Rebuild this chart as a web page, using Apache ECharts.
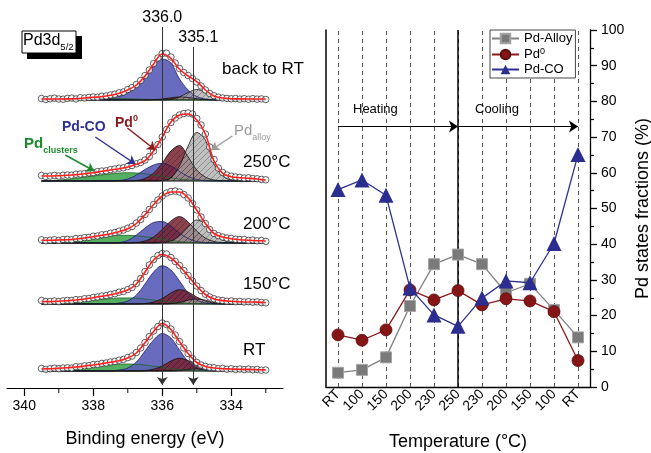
<!DOCTYPE html>
<html><head><meta charset="utf-8">
<script src="https://cdn.jsdelivr.net/npm/echarts@6.0.0/dist/echarts.min.js"></script>
<style>html,body{margin:0;padding:0;background:#fff}#c{width:651px;height:453px}</style>
</head><body><div id="c"></div>
<script>
// ================= DATA =================
// Right panel: Pd state fractions (%)
const temperatures = ['RT','100','150','200','230','250','230','200','150','100','RT'];
const pdAlloy = [4.0,4.8,8.3,22.7,34.4,37.1,34.4,26.4,28.9,21.6,13.9];
const pd0     = [14.6,13.1,16.0,27.2,24.4,27.0,23.0,24.7,24.1,21.1,7.4];
const pdCO    = [55.3,58.0,53.7,27.7,20.2,17.0,24.9,29.7,29.2,40.2,65.1];
const fractionMin = 0, fractionMax = 100, fractionStep = 10;
const heatingLevel = 73;

// Left panel: Pd3d5/2 XPS spectra (intensity, arbitrary units above each baseline)
const energyMajorTicks = [340,338,336,334];
const energyMinorTicks = [339,337,335,333];
const peakLines = [336.0, 335.1];
const spectraNames = ['back to RT','250°C','200°C','150°C','RT'];
const spectraOffsets = [288,207,145,84,17];

const fitEnergy = [339.5,339.25,339,338.75,338.5,338.25,338,337.75,337.5,337.25,337,336.75,336.5,336.25,336,335.75,335.5,335.25,335,334.75,334.5,334.25,334,333.75,333.5,333.25,333];
const dataEnergy = [339.5,339.375,339.25,339.125,339,338.875,338.75,338.625,338.5,338.375,338.25,338.125,338,337.875,337.75,337.625,337.5,337.375,337.25,337.125,337,336.875,336.75,336.625,336.5,336.375,336.25,336.125,336,335.875,335.75,335.625,335.5,335.375,335.25,335.125,335,334.875,334.75,334.625,334.5,334.375,334.25,334.125,334,333.875,333.75,333.625,333.5,333.375,333.25,333.125,333];

// back to RT
const dataBackRT = [1.5,0.5,1.2,1.8,1.0,0.8,1.6,1.9,1.0,2.3,2.0,2.6,3.0,2.8,3.8,4.0,5.0,5.8,7.2,8.0,10.5,12.5,15.5,19.5,24.5,30,36.5,42,46.5,46.8,43,37,31.5,27.5,24.5,21.5,18,14,10,6.5,4.2,2.8,2.0,1.6,1.2,1.5,0.9,1.3,0.8,1.4,0.9,1.1,0.5];
const fitBackRT = [1,1,1,1.1,1.3,2,2.7,3.3,4.7,6.7,10,15,24,36,46,41.7,30.7,24,18.3,10,4,2,1.3,1.1,1,1,1];
const clustersBackRT = [0.3,0.45,0.6,0.8,1,1.2,1.4,1.5,1.5,1.4,1.2,1,0.7,0.5,0.3,0.1,0,0,0,0,0,0,0,0,0,0,0];
const coBackRT = [0.1,0.2,0.3,0.4,0.5,0.6,0.8,1.2,2,3.5,7,13,23,34,41,37,21,10,3.5,1,0.2,0,0,0,0,0,0];
const metalBackRT = [0,0,0,0,0,0,0,0,0,0,0,0,0,0.3,1,2.2,3,2.5,1.3,0.4,0,0,0,0,0,0,0];
const alloyBackRT = [0,0,0,0,0,0,0,0,0,0,0,0,0,0,0,0.5,3,7.5,10.5,7.5,2.5,0.5,0,0,0,0,0];
// 250 °C
const data250 = [5.5,4.5,5.0,5.6,5.0,5.8,6.0,5.8,6.8,7.0,7.5,8.2,8.5,9.4,10.0,10.2,11.3,12.0,12.8,13.2,14.5,15.5,17.2,18.5,21,24.5,30,36.5,44,51.5,58.5,63,66,67.5,68,67,62.5,56,47,34,21.5,13,8.5,6,4.8,4.0,3.6,3.0,3.2,2.4,2.2,1.6,1.2];
const fit250 = [5,5,5.3,5.7,6.3,7.3,8.3,9.7,11,12.3,14,16.7,20.3,30,44,59,66,67,61,47,20,7.7,4.3,3.3,2.7,2,1];
const clusters250 = [0.2,0.5,1,1.7,2.7,3.8,5,6.2,7.2,8,8.3,8,7.2,6,4.6,3.2,2,1.1,0.5,0.2,0,0,0,0,0,0,0];
const co250 = [0,0,0,0,0,0,0,0,0,0.5,2,6,11.5,16,17.7,15,9.5,4.5,1.5,0.3,0,0,0,0,0,0,0];
const metal250 = [0,0,0,0,0,0,0,0,0,0,0,0.5,2.5,8,18,30,35.5,24,11,4,1,0.3,0,0,0,0,0];
const alloy250 = [0,0,0,0,0,0,0,0,0,0,0,0,0,0,0.5,3,15,35,48.5,41,17,5,1,0.2,0,0,0];
// 200 °C
const data200 = [3.2,2.2,2.8,3.3,2.6,3.5,3.6,3.3,4.5,4.4,5.4,5.6,6.8,7.0,8.2,8.6,9.8,10.5,11.8,13,14.8,16.5,20,23.5,28.5,33.5,38.5,43,47,50,51.5,52,51,48.5,45,39.5,33,26,19.5,13.5,9.5,7.4,6.0,5.0,4.6,3.8,3.4,3.6,2.6,2.9,2.2,2.5,1.6];
const fit200 = [2.7,2.7,3,3.3,4,5,6.3,7.7,9.3,11.3,14.3,19.5,28.3,38.5,47,51,51,45,33,19.5,9.5,6,4.3,3.3,2.7,2.3,2];
const clusters200 = [0.5,0.8,1.3,2,3,4,5.2,6.3,7.2,7.7,7.7,7.2,6.3,5,3.7,2.5,1.5,0.8,0.3,0,0,0,0,0,0,0,0];
const co200 = [0,0,0,0,0,0,0,0,0,0.5,2.5,8,15,20.5,21.5,17,10,4.5,1.5,0.3,0,0,0,0,0,0,0];
const metal200 = [0,0,0,0,0,0,0,0,0,0,0,0.5,2,6,13.5,22,26.5,21,12,5,1.5,0.3,0,0,0,0,0];
const alloy200 = [0,0,0,0,0,0,0,0,0,0,0,0,0,0,0.5,2,7,16,23,19,9.5,3,0.7,0.1,0,0,0];
// 150 °C
const data150 = [3.5,2.5,2.6,3.0,2.4,3.2,3.6,3.5,4.4,4.3,5.3,5.5,6.6,7.0,8.0,8.4,9.6,10.3,11.8,12.6,14.5,16.5,20.5,25.5,32.5,39,44.5,48.5,50.5,50,46.5,42.5,38.5,33.5,28.5,23,18,13.5,9.8,7.0,5.2,4.0,3.5,2.8,3.0,2.3,2.6,2.0,2.3,1.8,2.1,1.5,1.2];
const fit150 = [2.5,2.4,2.7,3.3,4,5,6.3,7.7,9.3,11.3,14,20,32,44,49.5,46,38,28,18,9.5,5,3.4,2.7,2.3,2,1.9,1.5];
const clusters150 = [0.5,0.7,1,1.5,2.2,3,3.9,4.8,5.5,6,6.1,5.8,5,4,3,2,1.2,0.6,0.2,0,0,0,0,0,0,0,0];
const co150 = [0,0,0,0,0,0,0,0,0,1,3,9,20,32,38.3,34,23,11,4,1,0.2,0,0,0,0,0,0];
const metal150 = [0,0,0,0,0,0,0,0,0,0,0,0,0.5,2,5.5,11,14.3,12,7,3,0.8,0.1,0,0,0,0,0];
const alloy150 = [0,0,0,0,0,0,0,0,0,0,0,0,0,0,0,0.3,1.5,3.8,5,3.8,1.5,0.4,0,0,0,0,0];
// RT
const dataRT = [2.5,1.6,2.2,2.8,2.3,3.0,3.2,3.0,4.3,4.2,5.2,5.3,6.4,6.6,7.6,8.0,9.0,9.6,10.8,11.6,13.5,15.0,18.5,23,28.5,34.5,40,44.5,48,46.5,42,36,29.5,23,17.5,12.5,8.6,6.0,4.6,3.6,3.3,2.4,2.6,1.8,2.2,1.6,2.0,1.4,1.9,1.2,1.6,0.8,1.0];
const fitRT = [2,2.3,2.7,3.3,4,5,6,7.3,8.7,10.3,13,18,28.3,39.5,47.5,41.5,29.3,17.5,8.5,4.5,3,2.3,2,1.7,1.6,1.3,1.1];
const clustersRT = [0.5,0.8,1.2,1.8,2.6,3.5,4.5,5.5,6.3,6.8,7,6.7,6,4.8,3.6,2.4,1.4,0.7,0.3,0,0,0,0,0,0,0,0];
const coRT = [0,0,0,0,0,0,0,0,0,1,3,9,20,31,37.5,33,21,9.5,3,0.8,0.1,0,0,0,0,0,0];
const metalRT = [0,0,0,0,0,0,0,0,0,0,0,0,0.4,1.8,5,10,12.7,10.5,6,2.5,0.7,0.1,0,0,0,0,0];
const alloyRT = [0,0,0,0,0,0,0,0,0,0,0,0,0,0,0,0,0.5,1.5,2,1.5,0.5,0,0,0,0,0,0];

// ================= BUILD =================
const FONT = '"Liberation Sans", Arial, Helvetica, sans-serif';
const spectra = [
  {data:dataBackRT, fit:fitBackRT, comps:[clustersBackRT, coBackRT, metalBackRT, alloyBackRT]},
  {data:data250, fit:fit250, comps:[clusters250, co250, metal250, alloy250]},
  {data:data200, fit:fit200, comps:[clusters200, co200, metal200, alloy200]},
  {data:data150, fit:fit150, comps:[clusters150, co150, metal150, alloy150]},
  {data:dataRT, fit:fitRT, comps:[clustersRT, coRT, metalRT, alloyRT]}
];

function hatch(color){
  const c = document.createElement('canvas');
  c.width = 6; c.height = 6;
  const g = c.getContext('2d');
  g.fillStyle = color; g.fillRect(0,0,6,6);
  g.strokeStyle = 'rgba(0,0,0,0.6)'; g.lineWidth = 0.7;
  g.beginPath();
  g.moveTo(0,6); g.lineTo(6,0);
  g.moveTo(-1,1); g.lineTo(1,-1);
  g.moveTo(5,7); g.lineTo(7,5);
  g.stroke();
  return c;
}
const compStyles = [
  {fill:'rgba(70,168,82,0.92)', line:'#1f5f28', opacity:1},
  {fill:'rgba(92,96,184,0.92)', line:'#1d1f66', opacity:1},
  {fill:{image:hatch('#7a2230'), repeat:'repeat'}, line:'#111', opacity:0.85},
  {fill:{image:hatch('#a8a8a8'), repeat:'repeat'}, line:'#111', opacity:0.72}
];

const series = [];
spectra.forEach((sp, si) => {
  const off = spectraOffsets[si];
  series.push({type:'line', xAxisIndex:0, yAxisIndex:0, symbol:'none', silent:true, z:2,
    lineStyle:{color:'#000', width:1.2},
    data:[[dataEnergy[0], off],[dataEnergy[dataEnergy.length-1], off]]});
  sp.comps.forEach((arr, ci) => {
    const st = compStyles[ci];
    series.push({type:'line', xAxisIndex:0, yAxisIndex:0, symbol:'none', silent:true, smooth:0.35, z:2,
      lineStyle:{color:st.line, width:0.8},
      areaStyle:{origin:off, color:st.fill, opacity:st.opacity},
      data: arr.map((v,i)=>[fitEnergy[i], off+v])});
  });
  series.push({type:'scatter', xAxisIndex:0, yAxisIndex:0, symbol:'circle', symbolSize:6.5, silent:true, z:3,
    itemStyle:{color:'#fff', borderColor:'#222', borderWidth:0.9},
    data: sp.data.map((v,i)=>[dataEnergy[i], off+v])});
  series.push({type:'line', xAxisIndex:0, yAxisIndex:0, symbol:'none', silent:true, smooth:0.35, z:4,
    lineStyle:{color:'#ff1f1f', width:1.6},
    data: sp.fit.map((v,i)=>[fitEnergy[i], off+v])});
});

// minor ticks of the binding-energy axis (short marks just under the axis line)
series.push({type:'scatter', xAxisIndex:0, yAxisIndex:0, symbol:'rect', symbolSize:[1.2,5], clip:false, silent:true, z:6,
  itemStyle:{color:'#000'},
  data: energyMinorTicks.map(e => [e, -2.5])});

// peak position lines + annotation arrows (left panel)
series.push({type:'line', xAxisIndex:0, yAxisIndex:0, data:[], silent:true, z:5,
  markLine:{silent:true, symbol:['none','arrow'], symbolSize:8, animation:false,
    data:[
      [{coord:[peakLines[0],361], lineStyle:{color:'#333', width:1, type:'solid'},
        label:{show:true, position:'start', formatter:peakLines[0].toFixed(1), fontSize:16, color:'#000', fontFamily:FONT, distance:1}},
       {coord:[peakLines[0],3]}],
      [{coord:[peakLines[1],341], lineStyle:{color:'#333', width:1, type:'solid'},
        label:{show:true, position:'start', formatter:peakLines[1].toFixed(1), fontSize:16, color:'#000', fontFamily:FONT, distance:1, padding:[0,0,0,10]}},
       {coord:[peakLines[1],3]}],
      [{coord:[337.01,260], lineStyle:{color:'#8b1a1a', width:1.5, type:'solid'}, label:{show:false}},{coord:[336.20,238]}],
      [{coord:[337.94,251], lineStyle:{color:'#2e3192', width:1.5, type:'solid'}, label:{show:false}},{coord:[336.78,224]}],
      [{coord:[338.81,233], lineStyle:{color:'#1e8a2e', width:1.5, type:'solid'}, label:{show:false}},{coord:[337.97,217]}],
      [{coord:[333.97,252], lineStyle:{color:'#9a9a9a', width:1.5, type:'solid'}, label:{show:false}},{coord:[334.58,238]}]
    ]}
});

// right panel series
const turnIndex = temperatures.indexOf('250');
series.push({name:'Pd-Alloy', type:'line', xAxisIndex:1, yAxisIndex:1, data:pdAlloy, z:3,
  symbol:'rect', symbolSize:11, lineStyle:{color:'#808080', width:1.3},
  itemStyle:{color:'#7a7a7a', borderColor:'#a5a5a5', borderWidth:1},
  markLine:{silent:true, symbol:'none', label:{show:false}, animation:false, z:1,
    lineStyle:{color:'#555', type:[4,4], width:1},
    data: temperatures.map((t,i)=>({xAxis:i})).concat([{xAxis:turnIndex, lineStyle:{color:'#000', type:'solid', width:1.5}}])}
});
series.push({name:'Pd0', type:'line', xAxisIndex:1, yAxisIndex:1, data:pd0, z:4,
  symbol:'circle', symbolSize:12, lineStyle:{color:'#8b1a1a', width:1.3},
  itemStyle:{color:'#861515', borderColor:'#5a0d0d', borderWidth:0.8},
  markLine:{silent:true, symbol:['none','arrow'], symbolSize:9, label:{show:false}, animation:false,
    lineStyle:{color:'#000', type:'solid', width:1.2},
    data:[[{coord:[0,heatingLevel]},{coord:[turnIndex,heatingLevel]}],
          [{coord:[turnIndex,heatingLevel]},{coord:[temperatures.length-1,heatingLevel]}]]}
});
series.push({name:'Pd-CO', type:'line', xAxisIndex:1, yAxisIndex:1, data:pdCO, z:5,
  symbol:'triangle', symbolSize:15, lineStyle:{color:'#2e3192', width:1.3},
  itemStyle:{color:'#2b2e8f'}});

const yTicks = [];
for (let v = fractionMin; v <= fractionMax; v += fractionStep) yTicks.push(v);
const leftGridHeight = 368;

const option = {
  animation:false,
  backgroundColor:'#fff',
  textStyle:{fontFamily:FONT, color:'#000'},
  grid:[
    {left:7, right:368, top:20, bottom:65, outerBoundsMode:'none', containLabel:false},
    {left:326, right:61, top:30, bottom:66, outerBoundsMode:'none', containLabel:false}
  ],
  xAxis:[
    {gridIndex:0, type:'value', position:'bottom', min:332.5, max:340.5, inverse:true,
     axisLine:{show:true, onZero:false, lineStyle:{color:'#000', width:1.2}},
     axisTick:{show:true, customValues:energyMajorTicks, length:8, inside:false, lineStyle:{color:'#000', width:1.2}},
     axisLabel:{show:true, customValues:energyMajorTicks, fontSize:14, color:'#000', margin:11, fontFamily:FONT},
     splitLine:{show:false},
     name:'Binding energy (eV)', nameLocation:'middle', nameGap:42,
     nameTextStyle:{fontSize:18, color:'#000', fontFamily:FONT}},
    {gridIndex:1, type:'category', data:temperatures, boundaryGap:true,
     axisLine:{show:true, lineStyle:{color:'#000', width:1.3}},
     axisTick:{show:false},
     axisLabel:{rotate:45, fontSize:14, color:'#000', margin:5, interval:0, fontFamily:FONT},
     splitLine:{show:false},
     name:'Temperature (°C)', nameLocation:'middle', nameGap:46,
     nameTextStyle:{fontSize:18, color:'#000', fontFamily:FONT}}
  ],
  yAxis:[
    {gridIndex:0, type:'value', min:0, max:leftGridHeight, show:false},
    {gridIndex:1, type:'value', position:'right', min:fractionMin, max:fractionMax, interval:fractionStep,
     axisLine:{show:true, lineStyle:{color:'#000', width:1.3}},
     axisTick:{show:true, inside:false, length:7, lineStyle:{color:'#000', width:1.3}},
     minorTick:{show:true, splitNumber:2, length:4, lineStyle:{color:'#000', width:1.2}},
     axisLabel:{fontSize:14, color:'#000', margin:11, fontFamily:FONT, customValues:yTicks},
     splitLine:{show:false}, minorSplitLine:{show:false},
     name:'Pd states fractions (%)', nameLocation:'middle', nameGap:44, nameRotate:90,
     nameTextStyle:{fontSize:18, color:'#000', fontFamily:FONT}},
    {gridIndex:1, type:'value', position:'left', min:fractionMin, max:fractionMax,
     axisLine:{show:true, lineStyle:{color:'#000', width:1.5}},
     axisTick:{show:false}, axisLabel:{show:false}, splitLine:{show:false}}
  ],
  legend:{
    data:['Pd-Alloy','Pd0','Pd-CO'], orient:'vertical', left:490, top:30,
    itemWidth:27, itemHeight:12, itemGap:2, padding:[2,3,2,1],
    borderColor:'#444', borderWidth:1, backgroundColor:'#fff', z:10,
    formatter: n => n === 'Pd0' ? '{a|Pd}{s|0}' : '{a|' + n + '}',
    textStyle:{fontFamily:FONT, color:'#000', rich:{
      a:{fontSize:13, lineHeight:15, fontFamily:FONT, color:'#000'},
      s:{fontSize:9, lineHeight:9, verticalAlign:'top', fontFamily:FONT, color:'#000'}}}
  },
  graphic:[
    {type:'rect', shape:{x:27, y:36, width:55, height:23}, style:{fill:'#000'}, z:10},
    {type:'rect', shape:{x:22, y:31, width:54, height:22}, style:{fill:'#fff', stroke:'#000', lineWidth:1}, z:11},
    {type:'text', x:23, y:30, z:12, style:{text:'{a|Pd3d}{b|5/2}', fill:'#000',
      rich:{a:{fontSize:16, lineHeight:22, fontFamily:FONT, color:'#000'},
            b:{fontSize:9.5, lineHeight:11, verticalAlign:'bottom', fontFamily:FONT, color:'#000'}}}},
    {type:'text', x:222, y:61, z:12, style:{text:spectraNames[0], fontSize:17, fontFamily:FONT, fill:'#000'}},
    {type:'text', x:243, y:154, z:12, style:{text:spectraNames[1], fontSize:17, fontFamily:FONT, fill:'#000'}},
    {type:'text', x:243, y:216, z:12, style:{text:spectraNames[2], fontSize:17, fontFamily:FONT, fill:'#000'}},
    {type:'text', x:243, y:276, z:12, style:{text:spectraNames[3], fontSize:17, fontFamily:FONT, fill:'#000'}},
    {type:'text', x:243, y:342, z:12, style:{text:spectraNames[4], fontSize:17, fontFamily:FONT, fill:'#000'}},
    {type:'text', x:62, y:120, z:12, style:{text:'Pd-CO', fontSize:14, fontWeight:'bold', fontFamily:FONT, fill:'#2e3192'}},
    {type:'text', x:115, y:114, z:12, style:{text:'{a|Pd}{s|0}', fill:'#8b1a1a',
      rich:{a:{fontSize:14, lineHeight:18, fontWeight:'bold', fontFamily:FONT, color:'#8b1a1a'},
            s:{fontSize:9, lineHeight:9, verticalAlign:'top', fontWeight:'bold', fontFamily:FONT, color:'#8b1a1a'}}}},
    {type:'text', x:24, y:133, z:12, style:{text:'{a|Pd}{s|clusters}', fill:'#1e8a2e',
      rich:{a:{fontSize:15, lineHeight:22, fontWeight:'bold', fontFamily:FONT, color:'#1e8a2e'},
            s:{fontSize:9, lineHeight:11, verticalAlign:'bottom', fontWeight:'bold', fontFamily:FONT, color:'#1e8a2e'}}}},
    {type:'text', x:234, y:120, z:12, style:{text:'{a|Pd}{s|alloy}', fill:'#999',
      rich:{a:{fontSize:15, lineHeight:22, fontFamily:FONT, color:'#9a9a9a'},
            s:{fontSize:9, lineHeight:11, verticalAlign:'bottom', fontFamily:FONT, color:'#9a9a9a'}}}},
    {type:'text', x:353, y:103, z:12, style:{text:'Heating', fontSize:13, fontFamily:FONT, fill:'#000'}},
    {type:'text', x:475, y:103, z:12, style:{text:'Cooling', fontSize:13, fontFamily:FONT, fill:'#000'}}
  ],
  series: series
};

const chart = echarts.init(document.getElementById('c'), null, {renderer:'canvas'});
chart.setOption(option);
</script>
</body></html>
